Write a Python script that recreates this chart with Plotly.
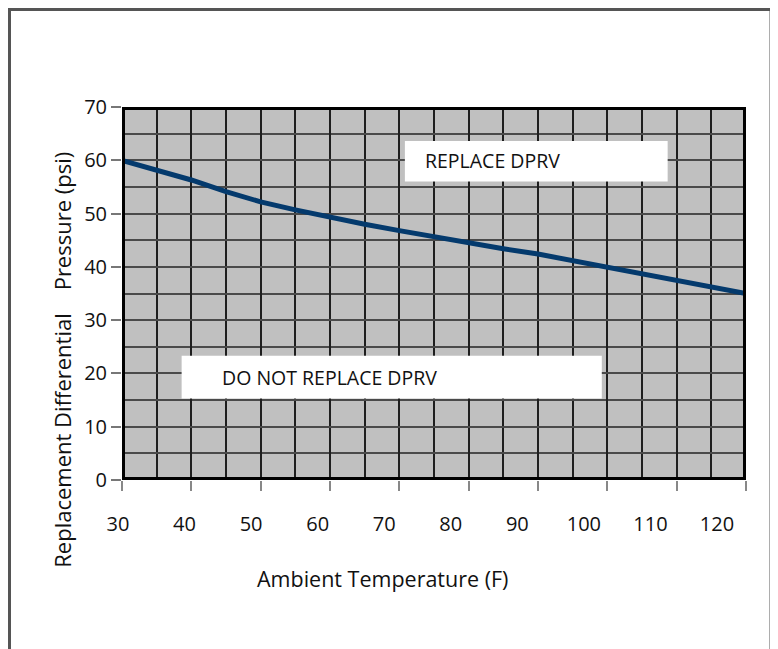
import plotly.graph_objects as go

# ---- data ----
temps = [30, 35, 40, 45, 50, 55, 60, 65, 70, 75, 80, 85, 90, 95, 100, 105, 110, 115, 120]
pressure = [60.0, 58.2, 56.3, 54.1, 52.2, 50.7, 49.3, 48.0, 46.8, 45.6, 44.5, 43.4,
            42.4, 41.2, 40.0, 38.8, 37.5, 36.2, 35.0]
x_ticks = [30, 40, 50, 60, 70, 80, 90, 100, 110, 120]
y_ticks = [0, 10, 20, 30, 40, 50, 60, 70]
label_replace = "REPLACE DPRV"
label_keep = "DO NOT REPLACE DPRV"
x_title = "Ambient Temperature (F)"
y_title = "Replacement Differential\u00a0\u00a0\u00a0\u00a0Pressure (psi)"

FONT = "Open Sans"
fig = go.Figure()

fig.add_trace(go.Scatter(x=temps, y=pressure, mode="lines",
                         line=dict(color="#043a6d", width=5), hoverinfo="skip",
                         showlegend=False))
# empty trace to carry the tick-label axis
fig.add_trace(go.Scatter(x=[], y=[], xaxis="x2", yaxis="y", showlegend=False))

shapes = []
# white label boxes
shapes.append(dict(type="rect", xref="x", yref="y", x0=70.8, x1=108.7, y0=56.0, y1=63.6,
                   fillcolor="white", line=dict(width=0), layer="above"))
shapes.append(dict(type="rect", xref="x", yref="y", x0=38.6, x1=99.2, y0=15.3, y1=23.3,
                   fillcolor="white", line=dict(width=0), layer="above"))
# thick plot frame
shapes.append(dict(type="rect", xref="x", yref="y", x0=30, x1=120, y0=0, y1=70,
                   line=dict(color="black", width=6), layer="above"))
# outer gray frame
shapes.append(dict(type="rect", xref="paper", yref="paper", x0=-0.1803, x1=1.0401,
                   y0=-0.6, y1=1.2614, line=dict(color="#555555", width=3), layer="below"))

annotations = [
    dict(text=label_replace, x=73.4, y=59.9, xref="x", yref="y", xanchor="left",
         yanchor="middle", showarrow=False, font=dict(family=FONT, size=19.5, color="#111")),
    dict(text=label_keep, x=44.2, y=19.3, xref="x", yref="y", xanchor="left",
         yanchor="middle", showarrow=False, font=dict(family=FONT, size=19.5, color="#111")),
    dict(text=x_title, x=0.417, y=-0.265, xref="paper", yref="paper", xanchor="center",
         yanchor="middle", showarrow=False, font=dict(family=FONT, size=21.5, color="#111")),
    dict(text=y_title, x=-0.0966, y=0.3217, xref="paper", yref="paper", xanchor="center",
         yanchor="middle", showarrow=False, textangle=-90,
         font=dict(family=FONT, size=22, color="#111")),
]

fig.update_layout(
    width=770, height=641,
    margin=dict(l=114, r=32, t=99, b=169, pad=0),
    paper_bgcolor="white", plot_bgcolor="#c0c0c0",
    font=dict(family=FONT, size=20, color="#111"),
    shapes=shapes, annotations=annotations,
    xaxis=dict(range=[30, 120], tickvals=x_ticks, showticklabels=False,
               ticks="outside", ticklen=10, tickwidth=1.5, tickcolor="#888888",
               showgrid=True, gridcolor="#1e1e1e", gridwidth=1.5,
               minor=dict(dtick=5, tick0=0, showgrid=True, gridcolor="#1e1e1e", gridwidth=1.5),
               zeroline=False, showline=False, fixedrange=True),
    xaxis2=dict(overlaying="x", side="bottom", anchor="y", range=[30, 123.76],
                tickvals=x_ticks, ticks="outside", ticklen=26, tickcolor="rgba(0,0,0,0)",
                ticklabelshift=-4,
                showgrid=False, zeroline=False, showline=False,
                tickfont=dict(family=FONT, size=20, color="#111")),
    yaxis=dict(range=[0, 70], tickvals=y_ticks, ticks="outside", ticklen=10,
               tickwidth=1.5, tickcolor="#777777",
               showgrid=True, gridcolor="#4a4a4a", gridwidth=2,
               minor=dict(dtick=5, tick0=0, showgrid=True, gridcolor="#4a4a4a", gridwidth=2),
               zeroline=False, showline=False,
               tickfont=dict(family=FONT, size=20, color="#111")),
)

fig.write_html("out.html")
